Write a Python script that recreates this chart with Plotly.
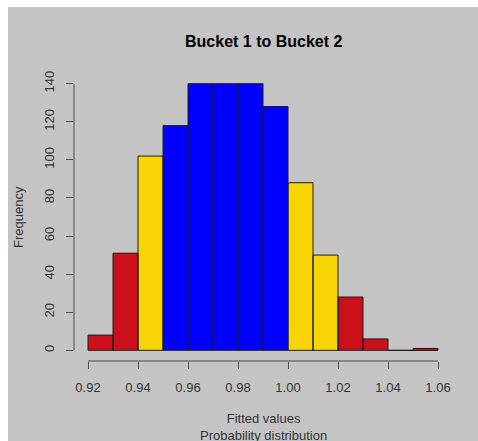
import plotly.graph_objects as go

# Histogram of fitted values: bin edges and counts
bin_starts = [0.92, 0.93, 0.94, 0.95, 0.96, 0.97, 0.98, 0.99, 1.00, 1.01, 1.02, 1.03, 1.04, 1.05]
bin_width = 0.01
counts = [8, 51, 102, 118, 140, 140, 140, 128, 88, 50, 28, 6, 0, 1]
bands = ["red", "red", "gold", "blue", "blue", "blue", "blue", "blue",
         "gold", "gold", "red", "red", "red", "red"]

x_ticks = [0.92, 0.94, 0.96, 0.98, 1.00, 1.02, 1.04, 1.06]
x_tick_labels = ["0.92", "0.94", "0.96", "0.98", "1.00", "1.02", "1.04", "1.06"]
y_ticks = [0, 20, 40, 60, 80, 100, 120, 140]

band_colors = {"red": "#CB101B", "gold": "#F8D406", "blue": "#0000FF"}
BG = "#C4C4C4"
AXIS = "#4D4D4D"
EDGE = "#1E1E1E"
TEXT = "#333333"
FONT = "Liberation Sans, Arial, sans-serif"

W, H = 478, 441
ML, MR, MT, MB = 74, 26, 73, 80

# R-style 4% padding around the data range
x_lo, x_hi = min(x_ticks), max(x_ticks)
y_lo, y_hi = min(y_ticks), max(y_ticks)
xpad = (x_hi - x_lo) * 0.04
ypad = (y_hi - y_lo) * 0.04

centers = [s + bin_width / 2 for s in bin_starts]

fig = go.Figure()
# filled bins
fig.add_trace(go.Bar(
    x=centers,
    y=counts,
    width=[bin_width] * len(counts),
    marker=dict(color=[band_colors[b] for b in bands], line=dict(width=0)),
    hoverinfo="x+y",
))

pw = W - ML - MR
ph = H - MT - MB
shapes = []
# bin outlines in data coordinates, so every shared edge is stroked
for s, c in zip(bin_starts, counts):
    shapes.append(dict(type="rect", xref="x", yref="y", layer="above",
                       x0=s, x1=s + bin_width, y0=0, y1=c,
                       line=dict(color=EDGE, width=1), fillcolor="rgba(0,0,0,0)"))
shapes += [
    # axis lines spanning only the tick range, as in base R graphics
    dict(type="line", xref="x", yref="paper", x0=x_lo, x1=x_hi, y0=0, y1=0,
         line=dict(color=AXIS, width=1)),
    dict(type="line", xref="paper", yref="y", x0=0, x1=0, y0=y_lo, y1=y_hi,
         line=dict(color=AXIS, width=1)),
    # white strips along the top and left edges of the page
    dict(type="rect", xref="paper", yref="paper", layer="above",
         x0=-ML / pw, x1=(W - ML) / pw, y0=(H - MB - 7) / ph, y1=(H - MB) / ph,
         fillcolor="white", line=dict(width=0)),
    dict(type="rect", xref="paper", yref="paper", layer="above",
         x0=-ML / pw, x1=(8 - ML) / pw, y0=-MB / ph, y1=(H - MB) / ph,
         fillcolor="white", line=dict(width=0)),
]

annotations = [
    dict(text="<b>Bucket 1 to Bucket 2</b>", xref="paper", yref="paper",
         x=0.5, y=1, yanchor="middle", yshift=MT - 41, showarrow=False,
         font=dict(size=16, color="#000000", family=FONT)),
    dict(text="Fitted values<br>Probability distribution", xref="paper", yref="paper",
         x=0.5, y=0, yanchor="top", yshift=-(409 - (H - MB)), showarrow=False,
         font=dict(size=13, color=TEXT, family=FONT)),
    dict(text="Frequency", xref="paper", yref="paper", textangle=-90,
         x=0, xanchor="center", y=0.5, xshift=18 - ML, showarrow=False,
         font=dict(size=13, color=TEXT, family=FONT)),
]

fig.update_layout(
    width=W, height=H,
    margin=dict(l=ML, r=MR, t=MT, b=MB, pad=0),
    paper_bgcolor=BG, plot_bgcolor=BG,
    showlegend=False,
    bargap=0,
    shapes=shapes,
    annotations=annotations,
    font=dict(family=FONT, size=13, color=TEXT),
    xaxis=dict(range=[x_lo - xpad, x_hi + xpad], tickvals=x_ticks, ticktext=x_tick_labels,
               ticks="outside", ticklen=7, tickcolor=AXIS, tickwidth=1,
               ticklabelstandoff=7,
               showgrid=False, zeroline=False, showline=False,
               tickfont=dict(size=13, color=TEXT, family=FONT), fixedrange=True),
    yaxis=dict(range=[y_lo - ypad, y_hi + ypad], tickvals=y_ticks,
               ticks="outside", ticklen=7, tickcolor=AXIS, tickwidth=1, tickangle=-90,
               ticklabelstandoff=7,
               showgrid=False, zeroline=False, showline=False,
               tickfont=dict(size=13, color=TEXT, family=FONT), fixedrange=True),
)

fig.write_html("out.html")
